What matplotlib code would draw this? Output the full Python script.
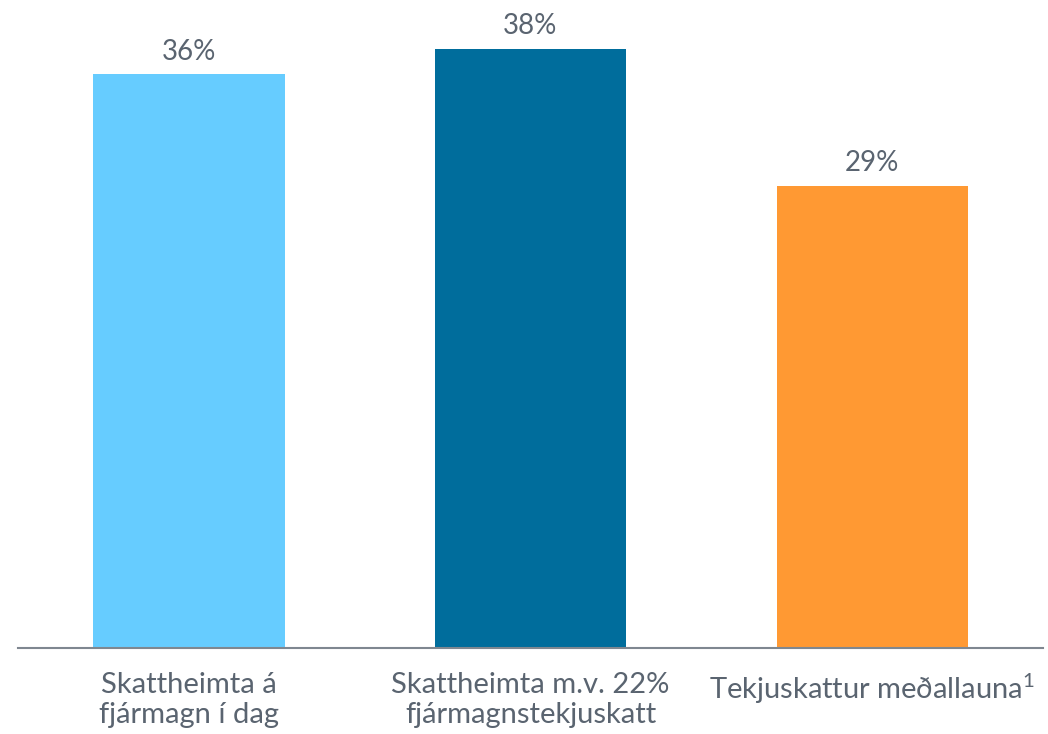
import matplotlib
matplotlib.use("Agg")
from matplotlib import pyplot as plt

categories = ["Skattheimta á\nfjármagn í dag",
              "Skattheimta m.v. 22%\nfjármagnstekjuskatt",
              "Tekjuskattur meðallauna$^{1}$"]
values = [36.0, 37.6, 29.0]
colors = ["#66CCFF", "#006D9C", "#FF9933"]
text_color = "#5A6470"

plt.rcParams['font.family'] = ['Lato', 'DejaVu Sans']
plt.rcParams['mathtext.fontset'] = 'custom'
plt.rcParams['mathtext.rm'] = 'Lato'
plt.rcParams['mathtext.default'] = 'regular'

fig = plt.figure(figsize=(10.48, 7.34), dpi=100)
ax = fig.add_axes([18 / 1048, 86 / 734, 1025 / 1048, 648 / 734])

x = range(len(values))
bars = ax.bar(x, values, width=0.56, color=colors)
for b, v in zip(bars, values):
    ax.text(b.get_x() + b.get_width() / 2, v + 0.6, "%d%%" % round(v),
            ha="center", va="bottom", fontsize=20, color=text_color)

ax.set_xlim(-0.5, 2.5)
ax.set_ylim(0, 40.65)
ax.set_xticks(list(x))
ax.set_xticklabels(categories, fontsize=21, color=text_color, linespacing=1.2)
ax.tick_params(axis="x", length=0, pad=17)
ax.set_yticks([])
for s in ["top", "right", "left"]:
    ax.spines[s].set_visible(False)
ax.spines["bottom"].set_color("#7F8790")
ax.spines["bottom"].set_linewidth(1.5)

fig.savefig("out.png", dpi=100)
